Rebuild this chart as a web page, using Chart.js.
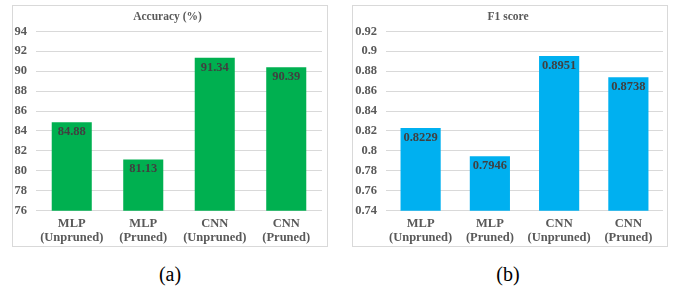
<!DOCTYPE html>
<html>
<head>
<meta charset="utf-8">
<script src="https://cdn.jsdelivr.net/npm/chart.js@4"></script>
<style>
  html, body { margin:0; padding:0; background:#fff; width:678px; height:291px; overflow:hidden; }
  .box { position:absolute; border:1px solid #d9d9d9; background:#fff; }
  canvas { position:absolute; }
  .cap { position:absolute; font-family:"Liberation Serif", serif; font-size:20px; color:#000; transform:translate(-50%,-50%); white-space:nowrap; }
</style>
</head>
<body>
<div class="box" style="left:12px;top:5px;width:314px;height:240px;"></div>
<div class="box" style="left:352px;top:5px;width:314px;height:240px;"></div>
<canvas id="c1" width="313" height="239" style="left:13px;top:6px;"></canvas>
<canvas id="c2" width="313" height="239" style="left:353px;top:6px;"></canvas>
<div class="cap" style="left:170px;top:274px;">(a)</div>
<div class="cap" style="left:508px;top:274px;">(b)</div>
<script>
const categories = [["MLP","(Unpruned)"],["MLP","(Pruned)"],["CNN","(Unpruned)"],["CNN","(Pruned)"]];
const accuracyValues = [84.88, 81.13, 91.34, 90.39];
const f1Values = [0.8229, 0.7946, 0.8951, 0.8738];
const accuracyTicks = [76, 78, 80, 82, 84, 86, 88, 90, 92, 94];
const f1Ticks = [0.74, 0.76, 0.78, 0.80, 0.82, 0.84, 0.86, 0.88, 0.90, 0.92];

const FONT = "'Liberation Serif', 'Times New Roman', serif";

const labelPlugin = {
  id: 'barLabels',
  afterDatasetsDraw(chart, args, opts) {
    const ctx = chart.ctx;
    const meta = chart.getDatasetMeta(0);
    const data = chart.data.datasets[0].data;
    ctx.save();
    ctx.font = "bold 12.5px " + FONT;
    ctx.fillStyle = "#404040";
    ctx.textAlign = "center";
    ctx.textBaseline = "middle";
    meta.data.forEach((bar, i) => {
      ctx.fillText(opts.fmt(data[i]), bar.x, bar.y + 9.5);
    });
    ctx.restore();
  }
};

function makeChart(id, title, values, ticks, color, fmtTick, fmtLabel, yWidth, padRight, barPct) {
  const min = ticks[0], max = ticks[ticks.length - 1];
  return new Chart(document.getElementById(id), {
    type: 'bar',
    data: {
      labels: categories,
      datasets: [{ data: values, backgroundColor: color, borderWidth: 0,
        barPercentage: barPct, categoryPercentage: 1.0 }]
    },
    options: {
      responsive: false,
      animation: false,
      devicePixelRatio: 1,
      layout: { padding: { left: 0, right: padRight, top: 0, bottom: 0 } },
      plugins: {
        legend: { display: false },
        tooltip: { enabled: false },
        title: { display: true, text: title, color: "#595959",
          font: { family: FONT, size: 11.5, weight: 'bold', lineHeight: 1.2 },
          padding: { top: 4, bottom: 7.5 } },
        barLabels: { fmt: fmtLabel }
      },
      scales: {
        x: {
          grid: { display: false, drawTicks: false },
          border: { display: false },
          ticks: { color: "#595959", padding: 7,
            font: { family: FONT, size: 12.5, weight: 'bold', lineHeight: 1.05 } },
          afterFit(scale) { scale.height = 34.3; }
        },
        y: {
          min: min, max: max,
          afterBuildTicks(scale) { scale.ticks = ticks.map(v => ({ value: v })); },
          grid: { color: "#d9d9d9", lineWidth: 1, drawTicks: false },
          border: { display: false },
          ticks: { color: "#595959", padding: 9, callback: (v) => fmtTick(v),
            font: { family: FONT, size: 12.5, weight: 'bold' } },
          afterFit(scale) { scale.width = yWidth; }
        }
      }
    },
    plugins: [labelPlugin]
  });
}

makeChart('c1', 'Accuracy (%)', accuracyValues, accuracyTicks, '#00B050',
  v => String(v), v => v.toFixed(2), 23, 4, 0.56);
makeChart('c2', 'F1 score', f1Values, f1Ticks, '#00B0F0',
  v => String(parseFloat(v.toFixed(2))), v => v.toFixed(4), 33, 3, 0.58);
</script>
</body>
</html>
